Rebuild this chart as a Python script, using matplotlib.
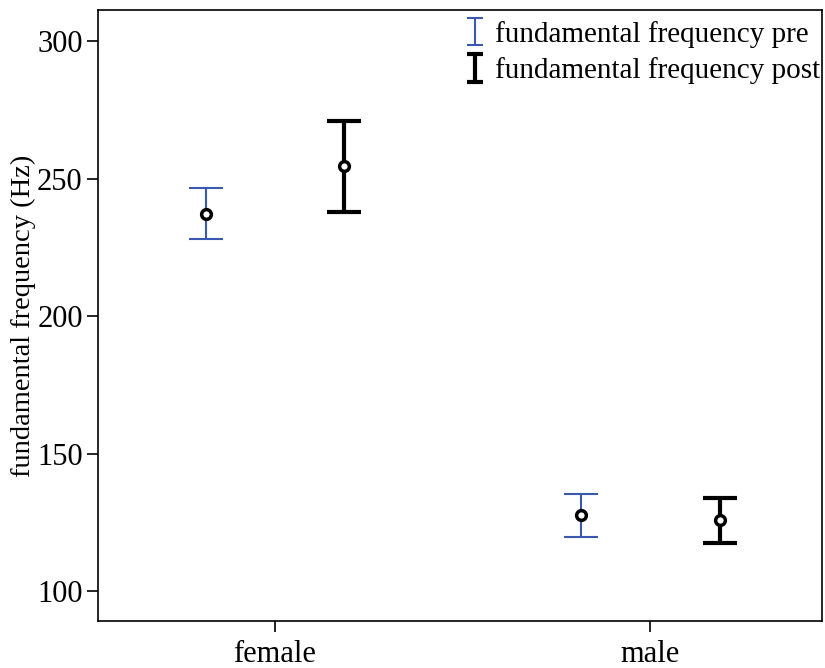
import matplotlib
matplotlib.use("Agg")
import matplotlib.pyplot as plt
import numpy as np
from matplotlib.legend_handler import HandlerBase
from matplotlib.lines import Line2D

# fundamental frequency (Hz), mean with error bar limits
groups = ["female", "male"]
pre_mean = [237.1, 127.6]
pre_low = [228.0, 119.6]
pre_high = [246.5, 135.3]
post_mean = [254.5, 125.8]
post_low = [237.8, 117.5]
post_high = [270.9, 133.8]

plt.rcParams["font.family"] = ["Liberation Serif", "DejaVu Serif"]

fig = plt.figure(figsize=(8.25, 6.68), dpi=100)
ax = fig.add_axes([98 / 825, 47 / 668, 724 / 825, 611 / 668])

x = np.arange(len(groups))
offset = 0.185
blue = "#3a58b0"


class IBeam(HandlerBase):
    """Small I-shaped error bar glyph for the legend."""

    def create_artists(self, legend, orig, xd, yd, width, height, fontsize, trans):
        c, lw = orig.get_color(), orig.get_linewidth()
        cx = xd + width / 2
        h = fontsize * 0.95
        y0, y1 = yd + height / 2 - h / 2, yd + height / 2 + h / 2
        w = fontsize * 0.28
        parts = [Line2D([cx, cx], [y0, y1]),
                 Line2D([cx - w, cx + w], [y0, y0]),
                 Line2D([cx - w, cx + w], [y1, y1])]
        for p in parts:
            p.set_color(c)
            p.set_linewidth(lw)
            p.set_solid_capstyle("butt")
            p.set_transform(trans)
        return parts


def draw(xs, mean, low, high, color, lw):
    mean = np.array(mean)
    err = [mean - np.array(low), np.array(high) - mean]
    ax.errorbar(xs, mean, yerr=err, fmt="none", ecolor=color,
                elinewidth=lw, capsize=12.5, capthick=lw)
    ax.plot(xs, mean, "o", mfc="white", mec="black", mew=2.5, ms=7, zorder=5)


draw(x - offset, pre_mean, pre_low, pre_high, blue, 1.5)
draw(x + offset, post_mean, post_low, post_high, "black", 3.0)

ax.set_xlim(-0.472, 1.458)
ax.set_ylim(89.1, 311.3)
ax.set_xticks(x)
ax.set_xticklabels(groups)
ax.set_yticks([100, 150, 200, 250, 300])
ax.tick_params(direction="out", length=8, width=1.2, labelsize=22, pad=3)
ax.tick_params(axis="x", pad=6)
for s in ax.spines.values():
    s.set_linewidth(1.2)
ax.set_ylabel("fundamental frequency (Hz)", fontsize=20.5, labelpad=0.5)

handles = [Line2D([], [], color=blue, lw=1.5), Line2D([], [], color="black", lw=3.0)]
labels = ["fundamental frequency pre", "fundamental frequency post"]
ax.legend(handles, labels, loc="upper right", bbox_to_anchor=(1.0, 0.985),
          frameon=False, fontsize=21,
          handlelength=0.8, handletextpad=0.3, borderaxespad=0.0,
          labelspacing=0.33, borderpad=0.05,
          handler_map={Line2D: IBeam()})

fig.savefig("out.png", dpi=100)
